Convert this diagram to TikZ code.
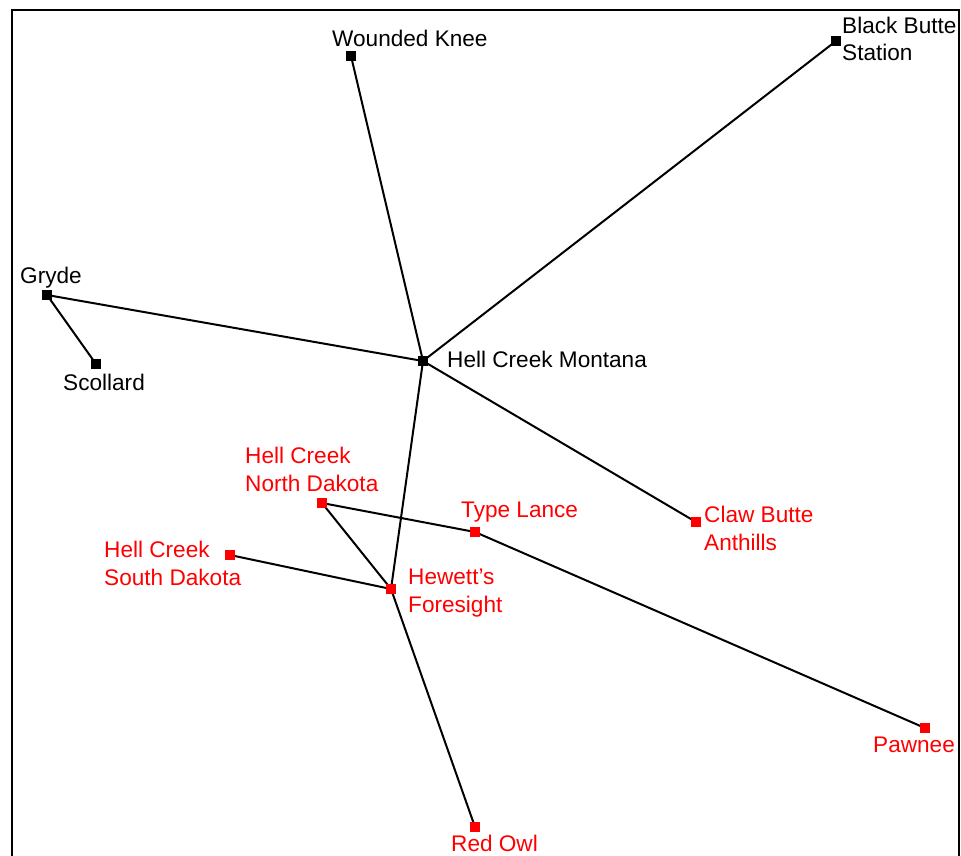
\documentclass[tikz,border=0pt]{standalone}
\usepackage{fontspec}
\setmainfont{Liberation Sans}
\begin{document}
\begin{tikzpicture}[x=1pt,y=-1pt,
  site/.style={rectangle,fill=black,minimum size=10pt,inner sep=0pt},
  redsite/.style={site,fill=red},
  lbl/.style={inner sep=0pt,anchor=base west,align=left,font=\fontsize{22.6}{27.5}\selectfont},
  redlbl/.style={lbl,text=red},
  link/.style={line width=2pt,black}]
\useasboundingbox (0,0) rectangle (961,856);
\draw[line width=2pt] (12,870) -- (12,10) -- (959,10) -- (959,870);
% sites
\node[site] (wk) at (351,56) {};
\node[site] (bbs) at (836,41) {};
\node[site] (gry) at (47,295) {};
\node[site] (sco) at (96,364) {};
\node[site] (hcm) at (423,361) {};
\node[redsite] (hcnd) at (322,503) {};
\node[redsite] (tl) at (475,532) {};
\node[redsite] (cba) at (696,522) {};
\node[redsite] (hcsd) at (230,555) {};
\node[redsite] (hf) at (391,589) {};
\node[redsite] (paw) at (925,728) {};
\node[redsite] (ro) at (475,827) {};
% links
\draw[link] (wk.center) -- (hcm.center);
\draw[link] (bbs.center) -- (hcm.center);
\draw[link] (gry.center) -- (hcm.center);
\draw[link] (gry.center) -- (sco.center);
\draw[link] (hcm.center) -- (cba.center);
\draw[link] (hcm.center) -- (hf.center);
\draw[link] (hcnd.center) -- (hf.center);
\draw[link] (hcnd.center) -- (tl.center);
\draw[link] (tl.center) -- (paw.center);
\draw[link] (hcsd.center) -- (hf.center);
\draw[link] (hf.center) -- (ro.center);
% redraw squares on top of the links
\foreach \n in {wk,bbs,gry,sco,hcm}{\fill[black] (\n.south west) rectangle (\n.north east);}
\foreach \n in {hcnd,tl,cba,hcsd,hf,paw,ro}{\fill[red] (\n.south west) rectangle (\n.north east);}
% labels (base = baseline of last line)
\node[lbl] (lwk) at (332,47) {Wounded Knee};
\node[lbl] (lbbs) at (842,61) {Black Butte\\Station};
\node[lbl] (lgry) at (20,283) {Gryde};
\node[lbl] (lsco) at (63,390) {Scollard};
\node[lbl] (lhcm) at (447,367) {Hell Creek Montana};
\node[redlbl] (lhcnd) at (245,491) {Hell Creek\\North Dakota};
\node[redlbl] (ltl) at (461,517) {Type Lance};
\node[redlbl] (lcba) at (704,550) {Claw Butte\\Anthills};
\node[redlbl] (lhcsd) at (104,585) {Hell Creek\\South Dakota};
\node[redlbl] (lhf) at (408,612) {Hewett’s\\Foresight};
\node[redlbl] (lpaw) at (873,752) {Pawnee};
\node[redlbl] (lro) at (451,851) {Red Owl};
\end{tikzpicture}
\end{document}
